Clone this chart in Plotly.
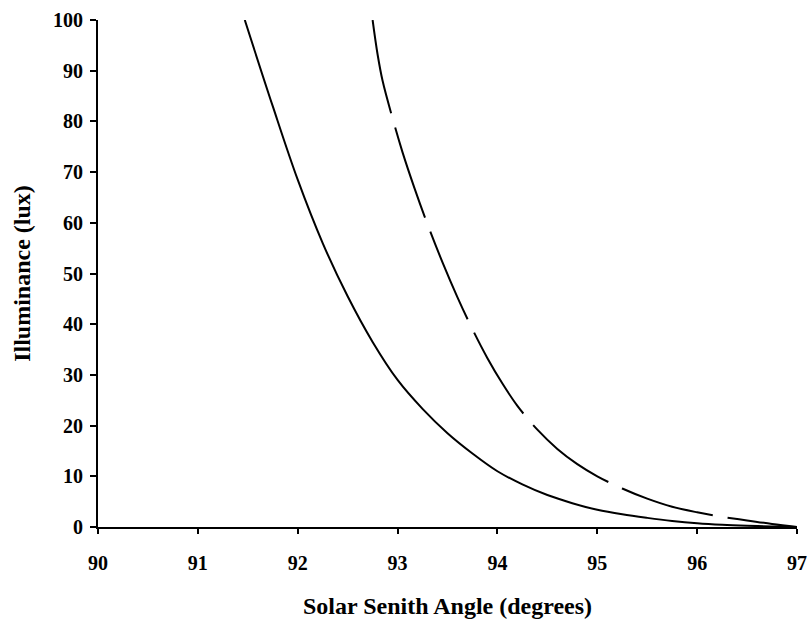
import plotly.graph_objects as go

# Solid curve
solid_x = [91.47, 91.75, 92.0, 92.25, 92.5, 92.75, 93.0, 93.25, 93.5, 93.75, 94.0, 94.25,
           94.5, 94.75, 95.0, 95.25, 95.5, 95.75, 96.0, 96.25, 96.5, 96.75, 97.0]
solid_y = [100, 83, 68.5, 56, 45.5, 36.5, 29, 23.3, 18.5, 14.5, 11, 8.4,
           6.3, 4.7, 3.4, 2.5, 1.8, 1.2, 0.75, 0.45, 0.25, 0.1, 0.0]

# Dashed curve
dashed_x = [92.75, 92.8, 92.85, 92.95, 93.05, 93.17, 93.3, 93.45, 93.6, 93.75, 93.9, 94.05,
            94.2, 94.4, 94.6, 94.8, 95.0, 95.25, 95.5, 95.75, 96.0, 96.25, 96.5, 96.75, 97.0]
dashed_y = [100, 93.2, 88.0, 80.6, 73.9, 66.8, 59.7, 52.2, 45.3, 39.0, 33.3, 28.3,
            23.9, 19.2, 15.4, 12.4, 10.0, 7.6, 5.6, 4.0, 2.9, 2.0, 1.3, 0.6, 0.0]

x_ticks = [90, 91, 92, 93, 94, 95, 96, 97]
y_ticks = [0, 10, 20, 30, 40, 50, 60, 70, 80, 90, 100]

FONT = "Liberation Serif"

fig = go.Figure()
fig.add_trace(go.Scatter(x=solid_x, y=solid_y, mode="lines",
                         line=dict(color="black", width=2, shape="spline"),
                         showlegend=False))
fig.add_trace(go.Scatter(x=dashed_x, y=dashed_y, mode="lines",
                         line=dict(color="black", width=2, shape="spline", dash="95px,15px"),
                         showlegend=False))

fig.update_layout(
    width=810, height=622,
    margin=dict(l=98, r=13, t=20, b=95),
    paper_bgcolor="white", plot_bgcolor="white",
    font=dict(family=FONT, color="black", size=20, weight="bold"),
)
fig.update_xaxes(
    range=[90, 97], tickvals=x_ticks, ticktext=[str(v) for v in x_ticks],
    showgrid=False, zeroline=False, showline=True, linecolor="black", linewidth=2,
    ticks="outside", ticklen=5, tickwidth=2, tickcolor="black",
    tickfont=dict(family=FONT, size=20, weight="bold"),
    ticklabelstandoff=12,
    title=dict(text="Solar Senith Angle (degrees)",
               font=dict(family=FONT, size=24, weight="bold"), standoff=24),
    automargin=False,
)
fig.update_yaxes(
    range=[0, 100], tickvals=y_ticks, ticktext=[str(v) for v in y_ticks],
    showgrid=False, zeroline=False, showline=True, linecolor="black", linewidth=2,
    ticks="outside", ticklen=6, tickwidth=2, tickcolor="black",
    tickfont=dict(family=FONT, size=20, weight="bold"),
    ticklabelstandoff=3,
    title=dict(text="Illuminance (lux)",
               font=dict(family=FONT, size=24, weight="bold"), standoff=16),
    automargin=False,
)

fig.write_html(
    "out.html",
    config={"displayModeBar": False},
    post_script="document.body.style.margin='0';document.body.style.overflow='hidden';",
)
